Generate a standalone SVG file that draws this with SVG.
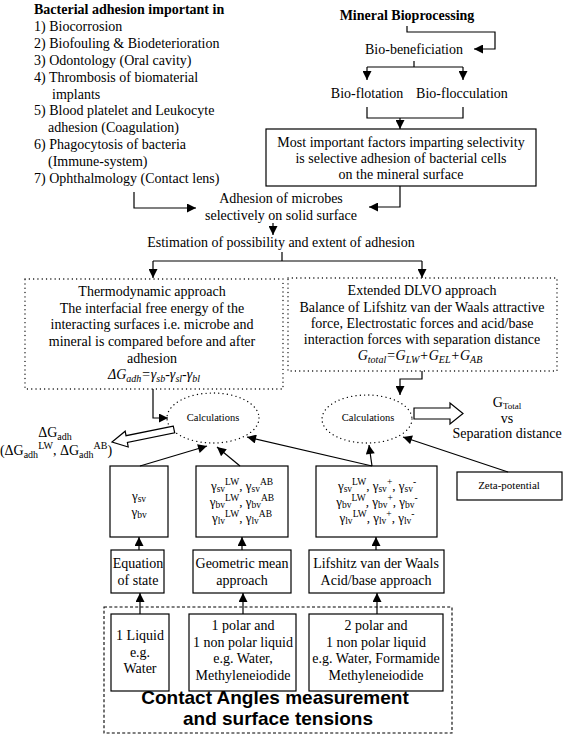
<svg xmlns="http://www.w3.org/2000/svg" width="567" height="736" viewBox="0 0 567 736">
<style>
text{font-family:"Liberation Serif","Times New Roman",serif;font-size:14px;fill:#000;text-anchor:middle}
.l{text-anchor:start}
.b{font-weight:bold}
.s{font-size:10.5px}
.z{font-size:11px}
.i{font-style:italic}
.g{font-size:13px}
.sb{font-size:9.5px}
.sp{font-size:9.5px}
.sans{font-family:"Liberation Sans",Arial,sans-serif;font-weight:bold;font-size:19px}
.box{fill:none;stroke:#000;stroke-width:1.2}
.dot{fill:none;stroke:#000;stroke-width:1.3;stroke-dasharray:0.1 4.2;stroke-linecap:round}
.dash{fill:none;stroke:#000;stroke-width:1.1;stroke-dasharray:3 2.2}
.ln{fill:none;stroke:#000;stroke-width:1.2}
.ar{marker-end:url(#ah)}
.hollow{fill:#fff;stroke:#000;stroke-width:1.2}
</style>
<defs>
<marker id="ah" viewBox="0 0 10 10" refX="10" refY="5" markerWidth="10" markerHeight="9" markerUnits="userSpaceOnUse" orient="auto"><path d="M0,0 L10,5 L0,10z" fill="#000"/></marker>
</defs>
<rect width="567" height="736" fill="#fff"/>

<g id="node-bacterial">
<text class="l b" x="34" y="14">Bacterial adhesion important in</text>
<text class="l" x="34" y="31">1) Biocorrosion</text>
<text class="l" x="34" y="48">2) Biofouling &amp; Biodeterioration</text>
<text class="l" x="34" y="65">3) Odontology (Oral cavity)</text>
<text class="l" x="34" y="82">4) Thrombosis of biomaterial</text>
<text class="l" x="52" y="99">implants</text>
<text class="l" x="34" y="115">5) Blood platelet and Leukocyte</text>
<text class="l" x="48" y="132">adhesion (Coagulation)</text>
<text class="l" x="34" y="149">6) Phagocytosis of bacteria</text>
<text class="l" x="48" y="166">(Immune-system)</text>
<text class="l" x="34" y="183">7) Ophthalmology (Contact lens)</text>
</g>

<g id="node-mineral"><text class="b" x="407" y="20">Mineral Bioprocessing</text></g>
<g id="node-biobenef"><text x="414" y="54">Bio-beneficiation</text></g>
<g id="node-bioflot"><text x="367" y="98">Bio-flotation</text></g>
<g id="node-bioflocc"><text x="462" y="98">Bio-flocculation</text></g>
<g id="node-factors">
<rect class="box" x="266" y="129" width="270" height="57"/>
<text x="401" y="147">Most important factors imparting selectivity</text>
<text x="401" y="163">is selective adhesion of bacterial cells</text>
<text x="401" y="179">on the mineral surface</text>
</g>
<g id="node-adhesion">
<text x="281" y="203">Adhesion of microbes</text>
<text x="281" y="220">selectively on solid surface</text>
</g>
<g id="node-estimation"><text x="281" y="247">Estimation of possibility and extent of adhesion</text></g>

<g id="node-thermo">
<rect class="dot" x="25" y="279" width="258" height="110"/>
<text x="152" y="296">Thermodynamic approach</text>
<text x="152" y="313">The interfacial free energy of the</text>
<text x="152" y="329">interacting surfaces i.e. microbe and</text>
<text x="152" y="346">mineral is compared before and after</text>
<text x="152" y="363">adhesion</text>
<text class="i" x="154" y="379">ΔG<tspan font-size="10" dy="3">adh</tspan><tspan dy="-3">=γ</tspan><tspan font-size="10" dy="3">sb</tspan><tspan dy="-3">-γ</tspan><tspan font-size="10" dy="3">sl</tspan><tspan dy="-3">-γ</tspan><tspan font-size="10" dy="3">bl</tspan></text>
</g>

<g id="node-dlvo">
<rect class="dot" x="288" y="278" width="269" height="93"/>
<text x="422" y="295">Extended DLVO approach</text>
<text x="422" y="312">Balance of Lifshitz van der Waals attractive</text>
<text x="422" y="328">force, Electrostatic forces and acid/base</text>
<text x="422" y="344">interaction forces with separation distance</text>
<text class="i" x="420" y="360">G<tspan font-size="10" dy="3">total</tspan><tspan dy="-3">=G</tspan><tspan font-size="10" dy="3">LW</tspan><tspan dy="-3">+G</tspan><tspan font-size="10" dy="3">EL</tspan><tspan dy="-3">+G</tspan><tspan font-size="10" dy="3">AB</tspan></text>
</g>

<g id="node-calc1">
<ellipse class="dot" cx="213" cy="418" rx="46" ry="25"/>
<text class="s" x="213" y="421">Calculations</text>
</g>
<g id="node-calc2">
<ellipse class="dot" cx="367" cy="419" rx="45" ry="24"/>
<text class="s" x="368" y="421">Calculations</text>
</g>

<g id="node-dgadh">
<text x="55" y="437">ΔG<tspan font-size="10" dy="3">adh</tspan></text>
<text x="56" y="455">(ΔG<tspan font-size="10" dy="3">adh</tspan><tspan font-size="10" dy="-9">LW</tspan><tspan dy="6">, ΔG</tspan><tspan font-size="10" dy="3">adh</tspan><tspan font-size="10" dy="-9">AB</tspan><tspan dy="6">)</tspan></text>
</g>

<g id="node-gtotal">
<text x="507" y="407">G<tspan font-size="9" dy="2">Total</tspan></text>
<text x="507" y="423">vs</text>
<text x="507" y="438">Separation distance</text>
</g>

<g id="node-gammaA">
<rect class="box" x="110" y="466" width="58" height="71"/>
<text class="g" x="139" y="500">γ<tspan class="sb" dy="2">sv</tspan></text>
<text class="g" x="139" y="516">γ<tspan class="sb" dy="2">bv</tspan></text>
</g>
<g id="node-gammaB">
<rect class="box" x="196" y="466" width="92" height="71"/>
<text class="g" x="242" y="490">γ<tspan class="sb" dy="2">sv</tspan><tspan class="sp" dy="-7">LW</tspan><tspan dy="5">, γ</tspan><tspan class="sb" dy="2">sv</tspan><tspan class="sp" dy="-7">AB</tspan></text>
<text class="g" x="242" y="506">γ<tspan class="sb" dy="2">bv</tspan><tspan class="sp" dy="-7">LW</tspan><tspan dy="5">, γ</tspan><tspan class="sb" dy="2">bv</tspan><tspan class="sp" dy="-7">AB</tspan></text>
<text class="g" x="242" y="522">γ<tspan class="sb" dy="2">lv</tspan><tspan class="sp" dy="-7">LW</tspan><tspan dy="5">, γ</tspan><tspan class="sb" dy="2">lv</tspan><tspan class="sp" dy="-7">AB</tspan></text>
</g>
<g id="node-gammaC">
<rect class="box" x="316" y="466" width="121" height="71"/>
<text class="g" x="377" y="490">γ<tspan class="sb" dy="2">sv</tspan><tspan class="sp" dy="-7">LW</tspan><tspan dy="5">, γ</tspan><tspan class="sb" dy="2">sv</tspan><tspan class="sp" dy="-7">+</tspan><tspan dy="5">, γ</tspan><tspan class="sb" dy="2">sv</tspan><tspan class="sp" dy="-7">-</tspan></text>
<text class="g" x="377" y="506">γ<tspan class="sb" dy="2">bv</tspan><tspan class="sp" dy="-7">LW</tspan><tspan dy="5">, γ</tspan><tspan class="sb" dy="2">bv</tspan><tspan class="sp" dy="-7">+</tspan><tspan dy="5">, γ</tspan><tspan class="sb" dy="2">bv</tspan><tspan class="sp" dy="-7">-</tspan></text>
<text class="g" x="377" y="522">γ<tspan class="sb" dy="2">lv</tspan><tspan class="sp" dy="-7">LW</tspan><tspan dy="5">, γ</tspan><tspan class="sb" dy="2">lv</tspan><tspan class="sp" dy="-7">+</tspan><tspan dy="5">, γ</tspan><tspan class="sb" dy="2">lv</tspan><tspan class="sp" dy="-7">-</tspan></text>
</g>
<g id="node-zeta">
<rect class="box" x="457" y="472" width="105" height="28"/>
<text class="z" x="509" y="489">Zeta-potential</text>
</g>

<g id="node-eqstate">
<rect class="box" x="111" y="550" width="53" height="43"/>
<text x="138" y="568">Equation</text>
<text x="138" y="585">of state</text>
</g>
<g id="node-geomean">
<rect class="box" x="193" y="550" width="98" height="43"/>
<text x="242" y="568">Geometric mean</text>
<text x="242" y="585">approach</text>
</g>
<g id="node-lifshitz">
<rect class="box" x="309" y="550" width="135" height="43"/>
<text x="376" y="568">Lifshitz van der Waals</text>
<text x="376" y="585">Acid/base approach</text>
</g>

<g id="node-contact">
<rect class="dash" x="104" y="607" width="348" height="126"/>
<text class="sans" x="275" y="704">Contact Angles measurement</text>
<text class="sans" x="278" y="725">and surface tensions</text>
</g>
<g id="node-liq1">
<rect class="box" x="111" y="614" width="58" height="77"/>
<text x="140" y="640">1 Liquid</text>
<text x="140" y="657">e.g.</text>
<text x="140" y="673">Water</text>
</g>
<g id="node-liq2">
<rect class="box" x="189" y="614" width="107" height="77"/>
<text x="243" y="630">1 polar and</text>
<text x="243" y="647">1 non polar liquid</text>
<text x="243" y="663">e.g. Water,</text>
<text x="243" y="680">Methyleneiodide</text>
</g>
<g id="node-liq3">
<rect class="box" x="309" y="614" width="134" height="77"/>
<text x="376" y="630">2 polar and</text>
<text x="376" y="647">1 non polar liquid</text>
<text x="376" y="663">e.g. Water, Formamide</text>
<text x="376" y="680">Methyleneiodide</text>
</g>

<g id="connectors">
<path class="ln ar" d="M407,26 V32 H495 V49 H474"/>
<path class="ln" d="M414,61 V67 M367,67 H463"/>
<path class="ln ar" d="M367,67 V80"/>
<path class="ln ar" d="M463,67 V80"/>
<path class="ln" d="M367,107 V118 H463 V107"/>
<path class="ln ar" d="M400,118 V129"/>
<path class="ln ar" d="M400,186 V207 H369"/>
<path class="ln ar" d="M134,192 V208 H196"/>
<path class="ln ar" d="M273,223 V235"/>
<path class="ln" d="M282,252 V261 M153,261 H422"/>
<path class="ln ar" d="M153,261 V278"/>
<path class="ln ar" d="M422,261 V278"/>
<path class="ln ar" d="M153,389 V418 H168"/>
<path class="ln ar" d="M422,371 V379 H400 V395"/>
<path class="ln ar" d="M140,466 L207,446"/>
<path class="ln ar" d="M240,466 L217,447"/>
<path class="ln ar" d="M372,466 L247,437"/>
<path class="ln ar" d="M372,466 L369,445"/>
<path class="ln ar" d="M508,472 L403,437"/>
<path class="ln ar" d="M139,550 V537"/>
<path class="ln ar" d="M242,550 V537"/>
<path class="ln ar" d="M376,550 V537"/>
<path class="ln ar" d="M140,614 V593"/>
<path class="ln ar" d="M243,614 V593"/>
<path class="ln ar" d="M377,614 V593"/>
<polygon class="hollow" points="173.3,426.1 126,435.7 125.2,431.2 112,442 128.2,447 127.4,442.5 174.7,432.9"/>
<polygon class="hollow" points="414,408 450,408 450,403 463,413.5 450,424 450,419 414,419"/>
</g>
</svg>
